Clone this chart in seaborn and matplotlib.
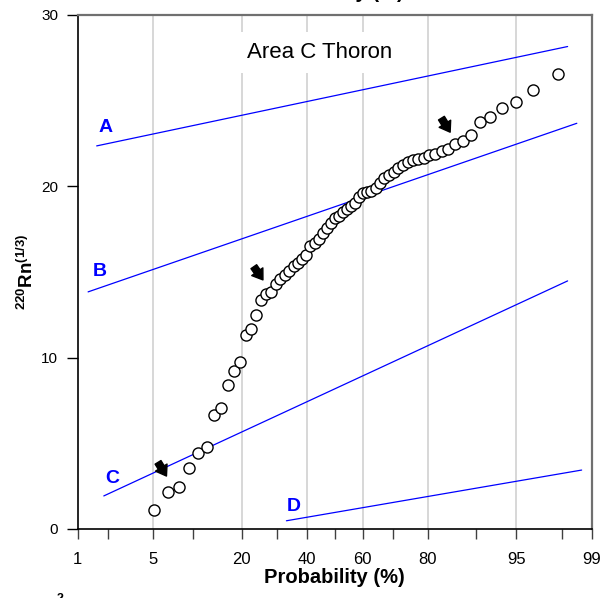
import math
import numpy as np
import pandas as pd
import matplotlib
matplotlib.use("Agg")
import matplotlib.pyplot as plt
import seaborn as sns

# ---------------- data ----------------
prob = [5.07, 6.52, 7.97, 9.42, 10.87, 12.32, 13.77, 15.22, 16.67, 18.12,
        19.57, 21.01, 22.46, 23.91, 25.36, 26.81, 28.26, 29.71, 31.16, 32.61,
        34.06, 35.51, 36.96, 38.41, 39.86, 41.30, 42.75, 44.20, 45.65, 47.10,
        48.55, 50.00, 51.45, 52.90, 54.35, 55.80, 57.25, 58.70, 60.14, 61.59,
        63.04, 64.49, 65.94, 67.39, 68.84, 70.29, 71.74, 73.19, 74.64, 76.09,
        77.54, 78.99, 80.43, 81.88, 83.33, 84.78, 86.23, 87.68, 89.13, 90.58,
        92.03, 93.48, 94.93, 96.38, 97.83]
rn13 = [1.11, 2.18, 2.47, 3.54, 4.42, 4.79, 6.64, 7.05, 8.39, 9.22,
        9.73, 11.31, 11.69, 12.51, 13.34, 13.70, 13.85, 14.30, 14.60, 14.80,
        15.05, 15.35, 15.55, 15.75, 16.00, 16.50, 16.70, 16.93, 17.26, 17.55,
        17.88, 18.14, 18.27, 18.50, 18.66, 18.87, 19.00, 19.40, 19.60, 19.65,
        19.75, 19.93, 20.18, 20.47, 20.67, 20.82, 21.06, 21.25, 21.44, 21.55,
        21.60, 21.65, 21.80, 21.91, 22.07, 22.17, 22.46, 22.65, 23.00, 23.74,
        24.07, 24.60, 24.95, 25.63, 26.56]

line_names = ["A", "B", "C", "D"]
line_p_start = [1.56, 1.28, 1.83, 33.1]
line_p_end = [98.25, 98.58, 98.25, 98.73]
line_y_start = [22.36, 13.84, 1.93, 0.48]
line_y_end = [28.16, 23.68, 14.48, 3.44]

tick_probs = [1, 2, 5, 10, 20, 30, 40, 50, 60, 70, 80, 90, 95, 98, 99]
labeled_probs = [1, 5, 20, 40, 60, 80, 95, 99]
grid_probs = [5, 20, 40, 60, 80, 95]
y_ticks = [0, 10, 20, 30]

# ---------------- probit scale ----------------
_zg = np.linspace(-6, 6, 24001)
_cg = np.array([50.0 * (1.0 + math.erf(z / math.sqrt(2.0))) for z in _zg])
_erf = np.vectorize(math.erf)


def fwd(p):
    p = np.asarray(p, dtype=float)
    return np.interp(p, _cg, _zg)


def inv(z):
    z = np.asarray(z, dtype=float)
    return 50.0 * (1.0 + _erf(z / math.sqrt(2.0)))


# ---------------- style ----------------
sns.set_style("ticks")
plt.rcParams["font.family"] = ["Liberation Sans", "DejaVu Sans"]
plt.rcParams["mathtext.fontset"] = "custom"
plt.rcParams["mathtext.rm"] = "Liberation Sans"
plt.rcParams["mathtext.bf"] = "Liberation Sans:bold"
for key in ["text.color", "axes.labelcolor", "xtick.labelcolor", "ytick.labelcolor"]:
    plt.rcParams[key] = "black"

fig = plt.figure(figsize=(6.12, 5.98), dpi=100)
ax = fig.add_axes([77.7 / 612, 1 - 529 / 598, 514 / 612, 514 / 598])
ax.set_xscale("function", functions=(fwd, inv))
ax.set_xlim(1, 99)
ax.set_ylim(0, 30)

for g in grid_probs:
    ax.axvline(g, color="#d4d4d4", lw=1.3, zorder=0)

df_pts = pd.DataFrame({"prob": prob, "rn": rn13})
sns.scatterplot(data=df_pts, x="prob", y="rn", ax=ax, marker="o", s=64,
                facecolor="white", edgecolor="black", linewidth=1.0, zorder=5)

for name, p0, p1, y0, y1 in zip(line_names, line_p_start, line_p_end,
                                 line_y_start, line_y_end):
    dfl = pd.DataFrame({"prob": [p0, p1], "rn": [y0, y1]})
    sns.lineplot(data=dfl, x="prob", y="rn", ax=ax, color="#0000ff",
                 lw=0.9, zorder=3, sort=False)

# line labels
lab_pos = {"A": (1.91, 23.41), "B": (1.67, 15.03), "C": (2.18, 2.92), "D": (35.7, 1.33)}
for name in line_names:
    xx, yy = lab_pos[name]
    ax.text(xx, yy, name, color="#0000ff", fontsize=14, fontweight="bold",
            ha="center", va="center", zorder=6)

# arrows
arrows = [((5.49, 3.89), (6.39, 3.09)),
          ((23.2, 15.31), (25.8, 14.54)),
          ((83.3, 23.98), (85.2, 23.16))]
for tail, head in arrows:
    ax.annotate("", xy=head, xytext=tail,
                arrowprops=dict(arrowstyle="simple,head_length=0.55,head_width=0.75,tail_width=0.38",
                                color="black", shrinkA=0, shrinkB=0,
                                mutation_scale=13),
                zorder=7)

ax.text(0.471, 0.928, "Area C Thoron", transform=ax.transAxes, fontsize=16,
        ha="center", va="center", zorder=4, color="black",
        bbox=dict(boxstyle="square,pad=0.45", facecolor="white", edgecolor="none"))

# ticks
ax.set_xticks(tick_probs)
ax.set_xticklabels([str(t) if t in labeled_probs else "" for t in tick_probs])
ax.xaxis.set_minor_locator(matplotlib.ticker.NullLocator())
ax.set_yticks(y_ticks)
ax.tick_params(axis="x", direction="out", length=7.5, width=1.0,
               color="#404040", labelsize=12, pad=9, labelcolor="black")
ax.tick_params(axis="y", direction="out", length=8, width=1.0,
               color="black", labelsize=11, pad=6, labelcolor="black")

for side in ["left", "bottom"]:
    ax.spines[side].set_color("black")
    ax.spines[side].set_linewidth(1.2)
for side in ["top", "right"]:
    ax.spines[side].set_visible(True)
    ax.spines[side].set_color("#707070")
    ax.spines[side].set_linewidth(1.6)

ax.set_xlabel("Probability (%)", fontsize=14.5, fontweight="bold", labelpad=1,
              color="black")
ax.set_ylabel(r"$^{\mathbf{220}}\mathbf{Rn}^{\mathbf{(1/3)}}$", fontsize=13.5,
              labelpad=3, color="black")

# clipped remnants of neighbouring panels
fig.text(0.545, 1.004, "Probability (%)", fontsize=14.5, fontweight="bold",
         ha="center", va="baseline")
fig.text(0.098, -0.012, "2", fontsize=9, fontweight="bold", ha="center", va="bottom")

fig.savefig("out.png", dpi=100)
